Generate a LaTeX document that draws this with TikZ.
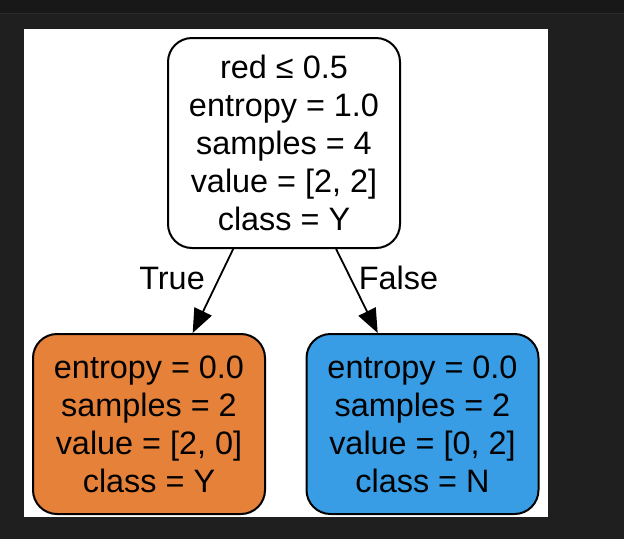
\documentclass[tikz,border=0pt]{standalone}
\usepackage{fontspec}
\setmainfont{Liberation Sans}
\usetikzlibrary{arrows.meta}
\definecolor{bgdark}{HTML}{1F1F1F}
\definecolor{bartop}{HTML}{181818}
\definecolor{barline}{HTML}{2B2B2B}
\definecolor{leaforange}{HTML}{E58139}
\definecolor{leafblue}{HTML}{399DE5}

\begin{document}
\begin{tikzpicture}[x=1pt, y=-1pt,
		treenode/.style={draw, line width=2pt, rounded corners=24pt, align=center,
			minimum width=232pt, font=\fontsize{32.4}{38}\selectfont},
		edgelabel/.style={font=\fontsize{32.4}{38}\selectfont},
		split/.style={-{Triangle[length=24pt, width=19pt]}, line width=1.8pt}]
		\useasboundingbox (0,0) rectangle (624,539);
		\fill[bgdark] (0,0) rectangle (624,539);
		\fill[bartop] (0,0) rectangle (624,13);
		\draw[barline, line width=1pt] (0,13.5) -- (624,13.5);
		\fill[white] (24,28.5) rectangle (547.5,516.5);

		\node[treenode, fill=white, minimum height=210pt] (root) at (284,143)
			{red ≤ 0.5\\entropy = 1.0\\samples = 4\\value = [2, 2]\\class = Y};
		\node[treenode, fill=leaforange, minimum height=180pt] (left) at (149,424)
			{entropy = 0.0\\samples = 2\\value = [2, 0]\\class = Y};
		\node[treenode, fill=leafblue, minimum height=180pt] (right) at (422.5,424)
			{entropy = 0.0\\samples = 2\\value = [0, 2]\\class = N};

		\draw[split] (root) -- node[edgelabel, pos=0.35, left=10pt] (true) {True} (left);
		\draw[split] (root) -- node[edgelabel, pos=0.35, right=4pt] (false) {False} (right);

	\end{tikzpicture}
\end{document}
